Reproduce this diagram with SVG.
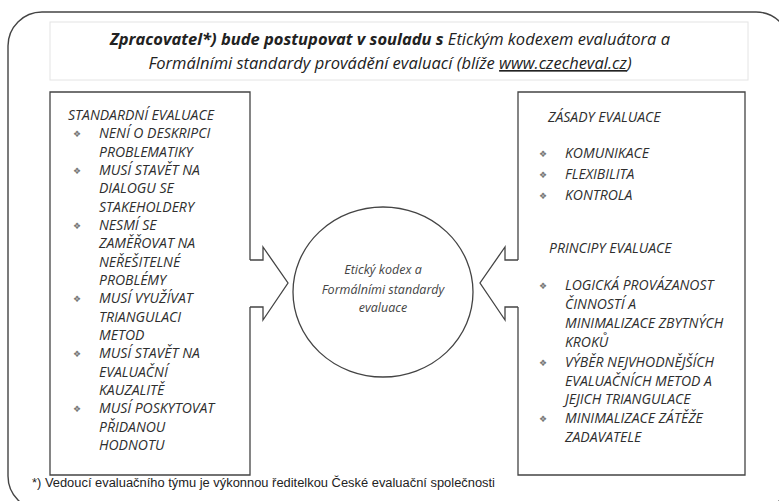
<svg xmlns="http://www.w3.org/2000/svg" width="779" height="501" viewBox="0 0 779 501">
<style>
.frame{fill:none;stroke:#444;stroke-width:1.4}
.box{fill:none;stroke:#444;stroke-width:1.3}
.faint{fill:none;stroke:#e4e4e4;stroke-width:1}
.t{font-family:"Open Sans","Liberation Sans",sans-serif;font-style:italic;font-size:14px;fill:#2e2e2e}
.c{font-family:"Open Sans","Liberation Sans",sans-serif;font-style:italic;font-size:12.5px;fill:#444}
.b{font-family:"DejaVu Sans",sans-serif;font-size:9px;fill:#777}
.title{font-family:"Open Sans","Liberation Sans",sans-serif;font-style:italic;font-size:16.5px;fill:#222}
.foot{font-family:"Liberation Sans",Arial,sans-serif;font-size:12.5px;fill:#222}
</style>
<rect width="779" height="501" fill="#ffffff"/>
<g id="frame">
<rect class="frame" x="8" y="12" width="782" height="498" rx="34"/>
<rect class="faint" x="50" y="22" width="698" height="58"/>
</g>
<g id="title">
<text class="title" x="390" y="45" text-anchor="middle"><tspan font-weight="bold">Zpracovatel*)  bude postupovat v souladu s</tspan> Etickým kodexem evaluátora a</text>
<text class="title" x="390" y="69" text-anchor="middle">Formálními standardy provádění evaluací (blíže <tspan text-decoration="underline">www.czecheval.cz</tspan>)</text>
</g>
<g id="standardni-evaluace">
<path class="box" d="M250,260 V92 H50 V475 H250 V307"/>
<text class="t" x="68" y="119.5">STANDARDNÍ EVALUACE</text>
<g class="b">
<text x="73" y="137">❖</text><text x="73" y="173.5">❖</text><text x="73" y="228.5">❖</text><text x="73" y="302">❖</text><text x="73" y="357">❖</text><text x="73" y="412">❖</text>
</g>
<text class="t" x="99" y="138">NENÍ O DESKRIPCI</text>
<text class="t" x="99" y="156.5">PROBLEMATIKY</text>
<text class="t" x="99" y="174.5">MUSÍ STAVĚT NA</text>
<text class="t" x="99" y="193">DIALOGU SE</text>
<text class="t" x="99" y="211.5">STAKEHOLDERY</text>
<text class="t" x="99" y="229.5">NESMÍ SE</text>
<text class="t" x="99" y="248">ZAMĚŘOVAT NA</text>
<text class="t" x="99" y="266.5">NEŘEŠITELNÉ</text>
<text class="t" x="99" y="284.5">PROBLÉMY</text>
<text class="t" x="99" y="303">MUSÍ VYUŽÍVAT</text>
<text class="t" x="99" y="321.5">TRIANGULACI</text>
<text class="t" x="99" y="340">METOD</text>
<text class="t" x="99" y="358">MUSÍ STAVĚT NA</text>
<text class="t" x="99" y="376.5">EVALUAČNÍ</text>
<text class="t" x="99" y="395">KAUZALITĚ</text>
<text class="t" x="99" y="413">MUSÍ POSKYTOVAT</text>
<text class="t" x="99" y="431.5">PŘIDANOU</text>
<text class="t" x="99" y="450">HODNOTU</text>
</g>
<g id="zasady-principy">
<path class="box" d="M518,260 V92 H745 V475 H518 V307"/>
<text class="t" x="548" y="122">ZÁSADY EVALUACE</text>
<g class="b">
<text x="539" y="157">❖</text><text x="539" y="178">❖</text><text x="539" y="199">❖</text><text x="539" y="289">❖</text><text x="539" y="366">❖</text><text x="539" y="422">❖</text>
</g>
<text class="t" x="565" y="158">KOMUNIKACE</text>
<text class="t" x="565" y="179">FLEXIBILITA</text>
<text class="t" x="565" y="200">KONTROLA</text>
<text class="t" x="549" y="253">PRINCIPY EVALUACE</text>
<text class="t" x="565" y="290">LOGICKÁ PROVÁZANOST</text>
<text class="t" x="565" y="309">ČINNOSTÍ A</text>
<text class="t" x="565" y="328">MINIMALIZACE ZBYTNÝCH</text>
<text class="t" x="565" y="347">KROKŮ</text>
<text class="t" x="565" y="367">VÝBĚR NEJVHODNĚJŠÍCH</text>
<text class="t" x="565" y="385.5">EVALUAČNÍCH METOD A</text>
<text class="t" x="565" y="404">JEJICH TRIANGULACE</text>
<text class="t" x="565" y="423">MINIMALIZACE ZÁTĚŽE</text>
<text class="t" x="565" y="442">ZADAVATELE</text>
</g>
<g id="eticky-kodex">
<ellipse class="box" cx="383" cy="292" rx="90" ry="85"/>
<text class="c" x="383" y="274" text-anchor="middle">Etický kodex a</text>
<text class="c" x="383" y="294" text-anchor="middle">Formálními standardy</text>
<text class="c" x="383" y="312" text-anchor="middle">evaluace</text>
</g>
<g id="connectors">
<path class="box" d="M250,260 H263 V247 L288,283 L263,320 V307 H250"/>
<path class="box" d="M518,260 H505 V247 L480,283 L505,320 V307 H518"/>
</g>
<g id="footnote">
<text class="foot" x="32" y="487" textLength="463" lengthAdjust="spacingAndGlyphs">*) Vedoucí evaluačního týmu je výkonnou ředitelkou České evaluační společnosti</text>
</g>
</svg>
